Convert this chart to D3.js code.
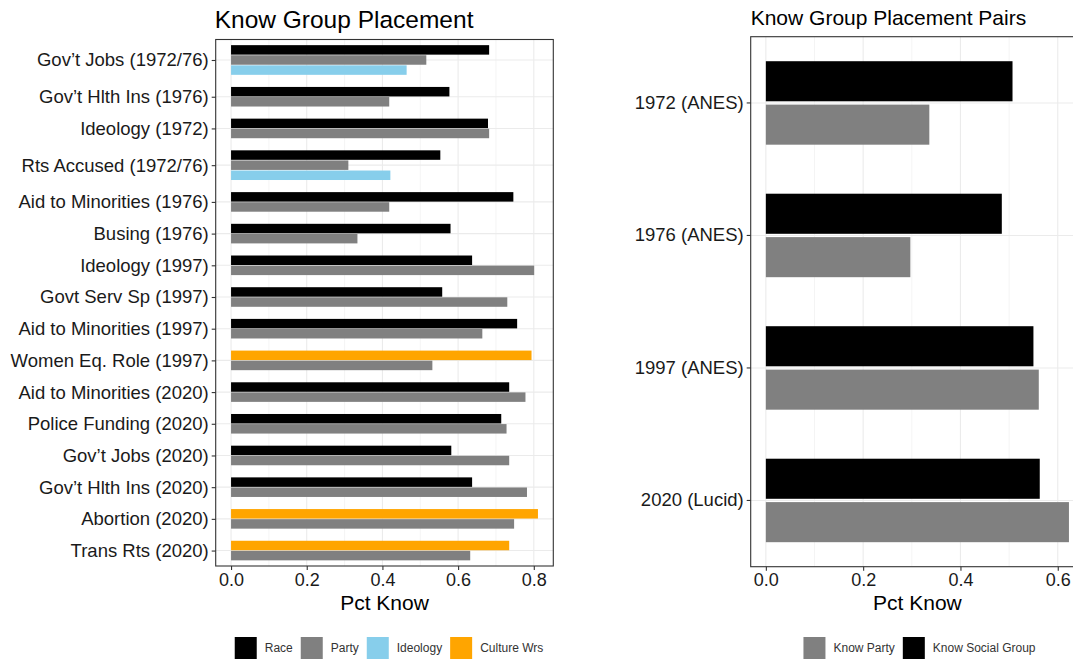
<!DOCTYPE html>
<html>
<head>
<meta charset="utf-8">
<script src="https://cdn.jsdelivr.net/npm/d3@7"></script>
<style>
  html, body { margin: 0; padding: 0; background: #ffffff; }
  svg { display: block; font-family: "Liberation Sans", Arial, Helvetica, sans-serif; }
</style>
</head>
<body>
<svg id="chart" width="1073" height="660"></svg>
<script>
// ---------------- DATA ----------------
const leftCategories = [
  "Gov\u2019t Jobs (1972/76)", "Gov\u2019t Hlth Ins (1976)", "Ideology (1972)", "Rts Accused (1972/76)",
  "Aid to Minorities (1976)", "Busing (1976)", "Ideology (1997)", "Govt Serv Sp (1997)",
  "Aid to Minorities (1997)", "Women Eq. Role (1997)", "Aid to Minorities (2020)", "Police Funding (2020)",
  "Gov\u2019t Jobs (2020)", "Gov\u2019t Hlth Ins (2020)", "Abortion (2020)", "Trans Rts (2020)"
];
const raceValues     = [0.682, 0.577, 0.679, 0.553, 0.746, 0.580, 0.637, 0.558, 0.756, null, 0.735, 0.714, 0.582, 0.637, null, null];
const cultureValues  = [null, null, null, null, null, null, null, null, null, 0.794, null, null, null, null, 0.811, 0.735];
const partyValues    = [0.516, 0.418, 0.682, 0.310, 0.418, 0.334, 0.801, 0.730, 0.664, 0.532, 0.778, 0.728, 0.735, 0.782, 0.748, 0.632];
const ideologyValues = [0.464, null, null, 0.421, null, null, null, null, null, null, null, null, null, null, null, null];
const leftSeriesNames = ["Race", "Party", "Ideology", "Culture Wrs"];
const leftXTicks = [0, 0.2, 0.4, 0.6, 0.8];

const pairCategories = ["1972 (ANES)", "1976 (ANES)", "1997 (ANES)", "2020 (Lucid)"];
const knowSocialGroup = [0.507, 0.485, 0.550, 0.563];
const knowParty       = [0.336, 0.297, 0.561, 0.623];
const pairSeriesNames = ["Know Party", "Know Social Group"];
const rightXTicks = [0, 0.2, 0.4, 0.6];

// ---------------- STYLE ----------------
const colors = { "Race": "#000000", "Party": "#808080", "Ideology": "#87CEEB", "Culture Wrs": "#FFA500",
                 "Know Party": "#808080", "Know Social Group": "#000000" };
const gridMajor = "#ebebeb", borderCol = "#333333", textCol = "#1a1a1a";

const svg = d3.select("#chart");
svg.append("rect").attr("width", 1073).attr("height", 660).attr("fill", "#fff");

// ================= LEFT PANEL =================
const L = { left: 215.7, right: 553.3, top: 39.5, bottom: 566 };
const leftMax = d3.max([...raceValues, ...cultureValues, ...partyValues, ...ideologyValues].filter(v => v != null));
const xL = d3.scaleLinear().domain([-0.05 * leftMax, 1.05 * leftMax]).range([L.left, L.right]);

// build groups: order of bars within each category: Race/Culture, Party, Ideology
const groups = leftCategories.map((c, i) => {
  const bars = [];
  if (raceValues[i] != null) bars.push({ s: "Race", v: raceValues[i] });
  if (cultureValues[i] != null) bars.push({ s: "Culture Wrs", v: cultureValues[i] });
  if (partyValues[i] != null) bars.push({ s: "Party", v: partyValues[i] });
  if (ideologyValues[i] != null) bars.push({ s: "Ideology", v: ideologyValues[i] });
  return { cat: c, bars };
});
const gapUnits = 1.14, padUnits = 0.53;
let cursor = padUnits;
groups.forEach(g => {
  g.start = cursor;
  g.center = cursor + g.bars.length / 2;
  g.bars.forEach((b, j) => { b.u = cursor + j; });
  cursor += g.bars.length + gapUnits;
});
const totalUnits = cursor - gapUnits + padUnits;
const yL = d3.scaleLinear().domain([0, totalUnits]).range([L.top, L.bottom]);

const gL = svg.append("g");
gL.append("rect").attr("x", L.left).attr("y", L.top).attr("width", L.right - L.left).attr("height", L.bottom - L.top).attr("fill", "#fff");
// minor grid
const leftMinor = [0.1, 0.3, 0.5, 0.7];
gL.selectAll(".lminor").data(leftMinor).join("line")
  .attr("x1", d => xL(d)).attr("x2", d => xL(d)).attr("y1", L.top).attr("y2", L.bottom)
  .attr("stroke", gridMajor).attr("stroke-width", 0.55);
gL.selectAll(".lmajor").data(leftXTicks).join("line")
  .attr("x1", d => xL(d)).attr("x2", d => xL(d)).attr("y1", L.top).attr("y2", L.bottom)
  .attr("stroke", gridMajor).attr("stroke-width", 1.1);
gL.selectAll(".lhgrid").data(groups).join("line")
  .attr("x1", L.left).attr("x2", L.right).attr("y1", d => yL(d.center)).attr("y2", d => yL(d.center))
  .attr("stroke", gridMajor).attr("stroke-width", 1.1);
// bars
const allBars = groups.flatMap(g => g.bars);
gL.selectAll(".lbar").data(allBars).join("rect")
  .attr("x", xL(0)).attr("width", d => xL(d.v) - xL(0))
  .attr("y", d => yL(d.u + 0.03)).attr("height", d => yL(d.u + 0.97) - yL(d.u + 0.03))
  .attr("fill", d => colors[d.s]);
// border
gL.append("rect").attr("x", L.left).attr("y", L.top).attr("width", L.right - L.left).attr("height", L.bottom - L.top)
  .attr("fill", "none").attr("stroke", borderCol).attr("stroke-width", 1.1);

// axes
const yAxisL = d3.axisLeft(yL).tickValues(groups.map(g => g.center)).tickFormat((d, i) => groups[i].cat).tickSize(4).tickPadding(3);
const yaL = svg.append("g").attr("transform", `translate(${L.left},0)`).call(yAxisL);
const xAxisL = d3.axisBottom(xL).tickValues(leftXTicks).tickFormat(d3.format(".1f")).tickSize(4).tickPadding(3);
const xaL = svg.append("g").attr("transform", `translate(0,${L.bottom})`).call(xAxisL);

// titles
svg.append("text").attr("x", L.left - 1).attr("y", 27.7).attr("font-size", 24.5).attr("fill", "#000").text("Know Group Placement");
svg.append("text").attr("x", (L.left + L.right) / 2).attr("y", 610).attr("text-anchor", "middle").attr("font-size", 21).attr("fill", "#000").text("Pct Know");

// ================= RIGHT PANEL =================
const R = { left: 750.7, top: 36.7, bottom: 566.7 };
const rightMax = d3.max([...knowSocialGroup, ...knowParty]);
const xR = d3.scaleLinear().domain([-0.05 * rightMax, 1.05 * rightMax]).range([R.left, R.left + (1.1 * rightMax) * 486.5]);
R.right = xR(1.05 * rightMax);
const yR = d3.scaleBand().domain(pairCategories).range([R.top, R.bottom]).padding(0);
const step = yR.bandwidth();

const gR = svg.append("g");
gR.append("rect").attr("x", R.left).attr("y", R.top).attr("width", R.right - R.left).attr("height", R.bottom - R.top).attr("fill", "#fff");
gR.selectAll(".rminor").data([0.1, 0.3, 0.5]).join("line")
  .attr("x1", d => xR(d)).attr("x2", d => xR(d)).attr("y1", R.top).attr("y2", R.bottom)
  .attr("stroke", gridMajor).attr("stroke-width", 0.55);
gR.selectAll(".rmajor").data(rightXTicks).join("line")
  .attr("x1", d => xR(d)).attr("x2", d => xR(d)).attr("y1", R.top).attr("y2", R.bottom)
  .attr("stroke", gridMajor).attr("stroke-width", 1.1);
gR.selectAll(".rhgrid").data(pairCategories).join("line")
  .attr("x1", R.left).attr("x2", R.right).attr("y1", d => yR(d) + step / 2).attr("y2", d => yR(d) + step / 2)
  .attr("stroke", gridMajor).attr("stroke-width", 1.1);

const pairBars = [];
pairCategories.forEach((c, i) => {
  pairBars.push({ c, s: "Know Social Group", v: knowSocialGroup[i], pos: 0 });
  pairBars.push({ c, s: "Know Party", v: knowParty[i], pos: 1 });
});
const halfPair = 0.315, innerGap = 0.0125;
gR.selectAll(".rbar").data(pairBars).join("rect")
  .attr("x", xR(0)).attr("width", d => xR(d.v) - xR(0))
  .attr("y", d => {
    const c = yR(d.c) + step / 2;
    return d.pos === 0 ? c - halfPair * step : c + innerGap * step;
  })
  .attr("height", (halfPair - innerGap) * step)
  .attr("fill", d => colors[d.s]);
gR.append("rect").attr("x", R.left).attr("y", R.top).attr("width", R.right - R.left).attr("height", R.bottom - R.top)
  .attr("fill", "none").attr("stroke", borderCol).attr("stroke-width", 1.1);

const yAxisR = d3.axisLeft(yR).tickSize(4).tickPadding(3);
const yaR = svg.append("g").attr("transform", `translate(${R.left},0)`).call(yAxisR);
const xAxisR = d3.axisBottom(xR).tickValues(rightXTicks).tickFormat(d3.format(".1f")).tickSize(4).tickPadding(3);
const xaR = svg.append("g").attr("transform", `translate(0,${R.bottom})`).call(xAxisR);

svg.append("text").attr("x", R.left).attr("y", 25).attr("font-size", 21).attr("fill", "#000").text("Know Group Placement Pairs");
svg.append("text").attr("x", (R.left + R.right) / 2).attr("y", 610).attr("text-anchor", "middle").attr("font-size", 21).attr("fill", "#000").text("Pct Know");

// axis styling
[yaL, xaL, yaR, xaR].forEach(a => {
  a.select(".domain").remove();
  a.selectAll(".tick line").attr("stroke", borderCol).attr("stroke-width", 1.1);
  a.selectAll(".tick text").attr("fill", textCol).attr("font-family", "Liberation Sans, Arial, sans-serif");
});
[yaL, yaR].forEach(a => a.selectAll(".tick text").attr("font-size", 18.5));
[xaL, xaR].forEach(a => a.selectAll(".tick text").attr("font-size", 18).attr("dy", "0.71em"));

// ================= LEGENDS =================
function drawLegend(names, centerX) {
  const g = svg.append("g");
  const keySize = 22, keyTextGap = 8, itemGap = 8;
  const items = names.map(n => {
    const t = g.append("text").attr("font-size", 12).attr("fill", "#333").attr("y", 652.3).text(n);
    return { n, t, w: t.node().getComputedTextLength() };
  });
  const total = d3.sum(items, d => keySize + keyTextGap + d.w) + itemGap * (items.length - 1);
  let x = centerX - total / 2;
  items.forEach(it => {
    g.append("rect").attr("x", x).attr("y", 637).attr("width", keySize).attr("height", keySize).attr("fill", colors[it.n]);
    it.t.attr("x", x + keySize + keyTextGap);
    x += keySize + keyTextGap + it.w + itemGap;
  });
}
drawLegend(leftSeriesNames, 389);
drawLegend(pairSeriesNames, 919.5);
</script>
</body>
</html>
